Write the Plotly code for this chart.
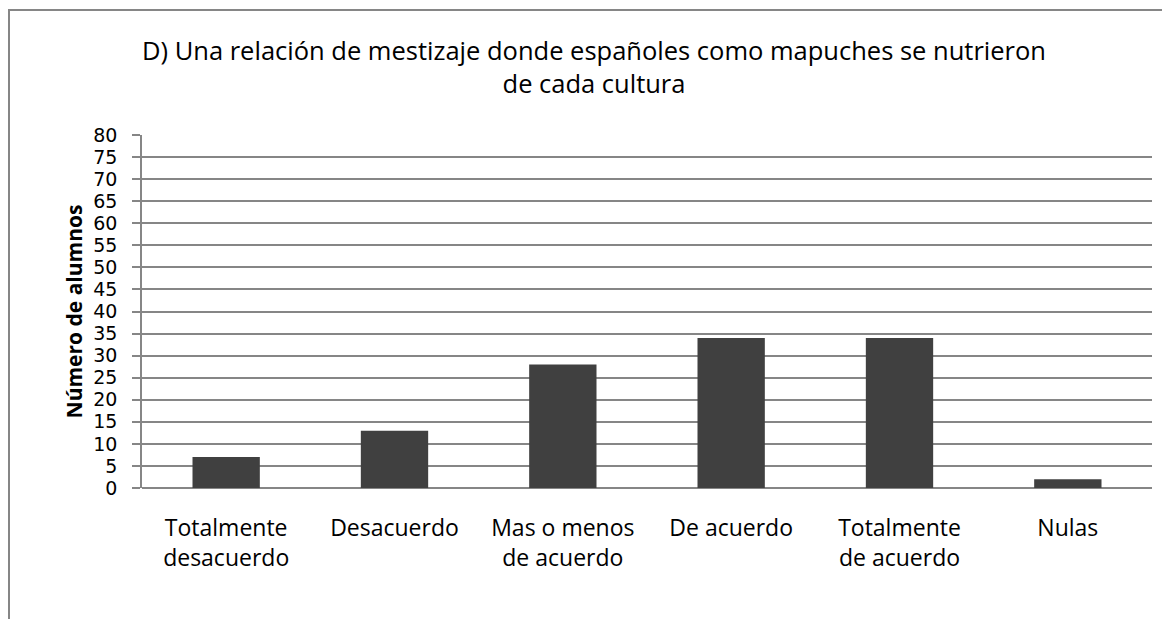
import plotly.graph_objects as go

categories = ["Totalmente<br>desacuerdo", "Desacuerdo", "Mas o menos<br>de acuerdo",
              "De acuerdo", "Totalmente<br>de acuerdo", "Nulas"]
values = [7, 13, 28, 34, 34, 2]
y_ticks = list(range(0, 81, 5))

title_text = ("D) Una relación de mestizaje donde españoles como mapuches se nutrieron"
              "<br>de cada cultura")
y_title = "Número de alumnos"

# page is offset by the browser's default 8px body margin
OFF = 8
W, H = 1170 - OFF, 619 - OFF
L, R, T, B = 142 - OFF, 18, 135 - OFF, 131
pw, ph = W - L - R, H - T - B

def px_x(p):
    return (p - OFF - L) / pw

def px_y(p):
    return (H - B - (p - OFF)) / ph

FONT = "Open Sans"
GRAY = "#868686"

fig = go.Figure()
fig.add_trace(go.Bar(x=categories, y=values, marker=dict(color="#404040", line=dict(width=0)),
                     width=0.4))

fig.update_layout(
    width=W, height=H,
    margin=dict(l=L, r=R, t=T, b=B, autoexpand=False),
    paper_bgcolor="white", plot_bgcolor="white",
    showlegend=False,
    font=dict(family=FONT, color="black"),
    title=dict(text=title_text, x=(594 - OFF) / W, xanchor="center", xref="container",
               y=1 - (59.5 - OFF) / H, yanchor="middle", yref="container",
               font=dict(size=25.5, family=FONT, color="black")),
    xaxis=dict(showline=False, showgrid=False, ticks="", tickfont=dict(size=23),
               ticklabelstandoff=24, automargin=False),
    yaxis=dict(range=[0, 80], tickvals=y_ticks, showgrid=True, gridcolor=GRAY, gridwidth=1.5,
               showline=True, linecolor=GRAY, linewidth=1.5, ticks="outside", ticklen=8,
               tickcolor=GRAY, tickwidth=1.5,
               tickfont=dict(size=19, family="DejaVu Sans"), ticklabelstandoff=11,
               zeroline=True, zerolinecolor=GRAY, zerolinewidth=1.5,
               title=dict(text="<b>" + y_title + "</b>", font=dict(size=21), standoff=5),
               automargin=False),
    shapes=[dict(type="rect", xref="paper", yref="paper",
                 x0=px_x(OFF + 1), x1=px_x(1180), y0=px_y(640), y1=px_y(10),
                 line=dict(color=GRAY, width=2), layer="below")],
)

fig.write_html("out.html")
